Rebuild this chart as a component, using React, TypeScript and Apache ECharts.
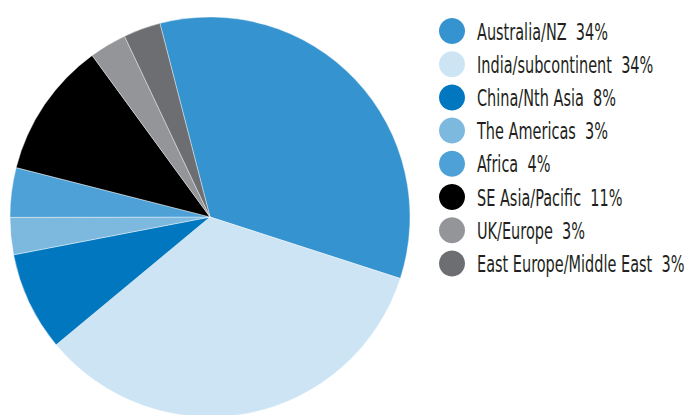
import React, { useEffect, useRef } from "react";
import * as echarts from "echarts";

const categories = [
  "Australia/NZ",
  "India/subcontinent",
  "China/Nth Asia",
  "The Americas",
  "Africa",
  "SE Asia/Pacific",
  "UK/Europe",
  "East Europe/Middle East",
];
const values = [34, 34, 8, 3, 4, 11, 3, 3];
const colors = ["#3593CF", "#CDE4F4", "#0077BF", "#7DB9DF", "#4DA1D6", "#000000", "#939598", "#6D6E71"];

export default function App() {
  const ref = useRef<HTMLDivElement>(null);
  useEffect(() => {
    if (!ref.current) return;
    const chart = echarts.init(ref.current, undefined, { renderer: "svg" });
    const legendTop = 31;
    const legendStep = 33.2;
    const legendEls: any[] = [];
    categories.forEach((c, i) => {
      const cy = legendTop + i * legendStep;
      legendEls.push({
        type: "circle",
        shape: { cx: 452, cy, r: 13 },
        style: { fill: colors[i] },
        silent: true,
      });
      legendEls.push({
        type: "text",
        x: 477,
        y: cy + 1,
        scaleX: 0.7,
        style: {
          text: `${c}  ${values[i]}%`,
          fontFamily: "DejaVu Sans Condensed",
          fontSize: 23,
          fill: "#231F20",
          verticalAlign: "middle",
          align: "left",
        },
        silent: true,
      });
    });
    chart.setOption({
      animation: false,
      color: colors,
      graphic: legendEls,
      series: [
        {
          type: "pie",
          center: [210, 217],
          radius: 200,
          startAngle: 104.5,
          clockwise: true,
          label: { show: false },
          labelLine: { show: false },
          itemStyle: { borderColor: "#ffffff", borderWidth: 0.4 },
          emphasis: { disabled: true },
          data: categories.map((c, i) => ({ name: c, value: values[i] })),
        },
      ],
    });
    return () => chart.dispose();
  }, []);
  return (
    <div
      ref={ref}
      style={{ position: "fixed", left: 0, top: 0, width: 688, height: 415, background: "#fff" }}
    />
  );
}
